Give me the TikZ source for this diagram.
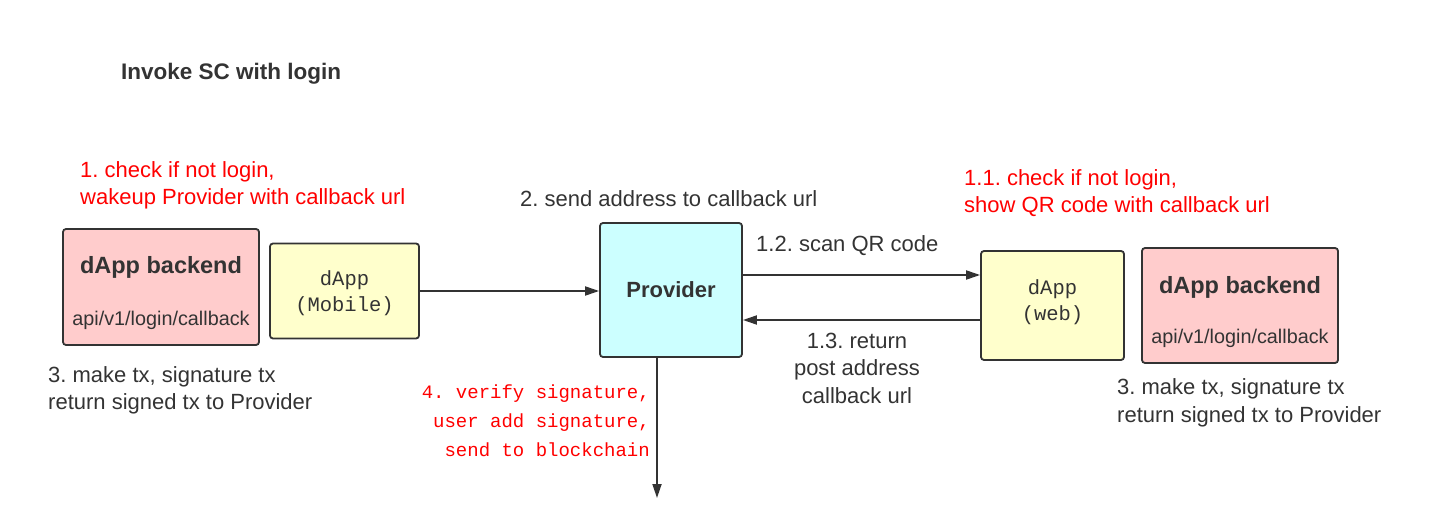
\documentclass[tikz,border=0pt]{standalone}
\usepackage{fontspec}
\setmainfont{Liberation Sans}
\setmonofont{Liberation Mono}
\usetikzlibrary{arrows.meta}
\definecolor{ink}{HTML}{333333}
\definecolor{pinkfill}{HTML}{FFCCCC}
\definecolor{yellowfill}{HTML}{FFFFCC}
\definecolor{cyanfill}{HTML}{CCFFFF}
\frenchspacing

\begin{document}
\begin{tikzpicture}[x=1pt,y=-1pt,
	box/.style={draw=ink, line width=1.8pt, rounded corners=3pt, inner sep=0pt},
	txt/.style={text=ink, inner sep=0pt, font=\fontsize{22}{27.5}\selectfont},
	redtxt/.style={text=red, inner sep=0pt, align=left, font=\fontsize{22}{27.5}\selectfont},
	boldtxt/.style={text=ink, inner sep=0pt, font=\fontsize{23.5}{26}\selectfont\bfseries},
	monotxt/.style={text=ink, inner sep=0pt, align=center, font=\fontsize{20.5}{26}\selectfont\ttfamily},
	arr/.style={draw=ink, line width=1.8pt, -{Triangle[length=14pt,width=9pt]}}]
	\useasboundingbox (0,0) rectangle (1445,529);
	% title
	\node[boldtxt, font=\fontsize{22.5}{26}\selectfont\bfseries, anchor=west] (title) at (121,74) {Invoke SC with login};
	% boxes
	\node[box, fill=pinkfill, minimum width=196, minimum height=116] (backL) at (161,287) {};
	\node[boldtxt] (backLname) at (161,267) {dApp backend};
	\node[txt, font=\fontsize{19.8}{24}\selectfont] (backLapi) at (161,320) {api/v1/login/callback};
	\node[box, fill=yellowfill, minimum width=149, minimum height=95] (mobile) at (344.5,291) {};
	\node[monotxt] (mobilename) at (344.5,293) {dApp\\(Mobile)};
	\node[box, fill=cyanfill, minimum width=142, minimum height=134] (provider) at (671,290) {};
	\node[boldtxt, font=\fontsize{22}{24}\selectfont\bfseries] (providername) at (671,290) {Provider};
	\node[box, fill=yellowfill, minimum width=143, minimum height=109] (web) at (1052.5,305.5) {};
	\node[monotxt] (webname) at (1052.5,302) {dApp\\(web)};
	\node[box, fill=pinkfill, minimum width=196, minimum height=115] (backR) at (1240,305.5) {};
	\node[boldtxt] (backRname) at (1240,287) {dApp backend};
	\node[txt, font=\fontsize{19.8}{24}\selectfont] (backRapi) at (1240,338) {api/v1/login/callback};
	% labels
	\node[redtxt, anchor=west] (step1) at (80,185.5) {1. check if not login,\\wakeup Provider with callback url};
	\node[txt, anchor=west] (step2) at (520,199) {2. send address to callback url};
	\node[redtxt, anchor=west] (step11) at (964,193) {1.1. check if not login,\\show QR code with callback url};
	\node[txt, anchor=west] (step12) at (756,246) {1.2. scan QR code};
	\node[txt, align=center] (step13) at (857,368) {1.3. return\\post address\\callback url};
	\node[txt, align=left, anchor=west] (step3L) at (48,390.5) {3. make tx, signature tx\\return signed tx to Provider};
	\node[txt, align=left, anchor=west] (step3R) at (1117,403) {3. make tx, signature tx\\return signed tx to Provider};
	\node[text=red, inner sep=0pt, align=right, anchor=east, font=\fontsize{19}{29}\selectfont\ttfamily] (step4) at (650,421) {4. verify signature,\\user add signature,\\send to blockchain};
	% connectors
	\coordinate (scan) at ([yshift=15pt]provider.east);
	\coordinate (back) at ([yshift=-30pt]provider.east);
	\coordinate (chain) at (657,498);
	\draw[arr] (mobile.east) -- (mobile.east -| provider.west);
	\draw[arr] (scan) -- (scan -| web.west);
	\draw[arr] (back -| web.west) -- (back);
	\draw[arr] (chain |- provider.south) -- (chain);
\end{tikzpicture}
\end{document}
